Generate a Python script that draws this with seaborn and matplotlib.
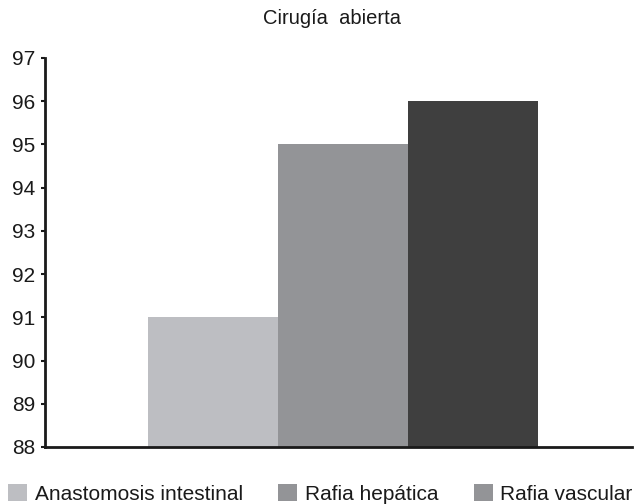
import matplotlib
matplotlib.use("Agg")
import matplotlib.pyplot as plt
import matplotlib.patches as mpatches
import seaborn as sns
import pandas as pd

categories = ["Anastomosis intestinal", "Rafia hepática", "Rafia vascular"]
values = [91, 95, 96]
bar_colors = ["#bdbec2", "#939497", "#3f3f3f"]
legend_colors = ["#bdbec2", "#939497", "#939497"]
yticks = [88, 89, 90, 91, 92, 93, 94, 95, 96, 97]

sns.set_theme(style="white")
plt.rcParams["font.family"] = ["Liberation Sans", "DejaVu Sans"]

df = pd.DataFrame({"cat": categories, "val": values})

fig = plt.figure(figsize=(6.35, 5.04), dpi=100)
ax = fig.add_axes([45 / 635, 1 - 447 / 504, 587 / 635, (447 - 58) / 504])

sns.barplot(data=df, x="cat", y="val", hue="cat", palette=bar_colors,
            width=1.0, saturation=1, legend=False, ax=ax)
for p in ax.patches:
    p.set_edgecolor("none")
    p.set_linewidth(0)

ax.set_ylim(88, 97)
ax.set_xlim(-1.292, 3.223)
ax.set_yticks(yticks)
ax.set_yticklabels([str(t) for t in yticks], fontsize=15, color="#1a1a1a")
ax.set_xticks([])
ax.set_xlabel("")
ax.set_ylabel("")
ax.tick_params(axis="y", direction="out", length=3, width=1.5, color="#1a1a1a",
               pad=4, left=True)
for side in ["top", "right"]:
    ax.spines[side].set_visible(False)
for side in ["left", "bottom"]:
    ax.spines[side].set_linewidth(2)
    ax.spines[side].set_color("#1a1a1a")

fig.text(332 / 635, 1 - 19 / 504, "Cirugía  abierta", ha="center", va="center",
         fontsize=14.5, color="#1a1a1a")

handles = [mpatches.Patch(facecolor=c, edgecolor="none", label=l)
           for c, l in zip(legend_colors, categories)]
fig.legend(handles=handles, loc="center left", bbox_to_anchor=(8 / 635, 1 - 494 / 504),
           ncol=3, frameon=False, fontsize=15, handlelength=0.9, handleheight=0.86,
           handletextpad=0.38, columnspacing=1.7, borderaxespad=0, borderpad=0)
for t in fig.legends[0].get_texts():
    t.set_color("#1a1a1a")

fig.savefig("out.png", dpi=100)
